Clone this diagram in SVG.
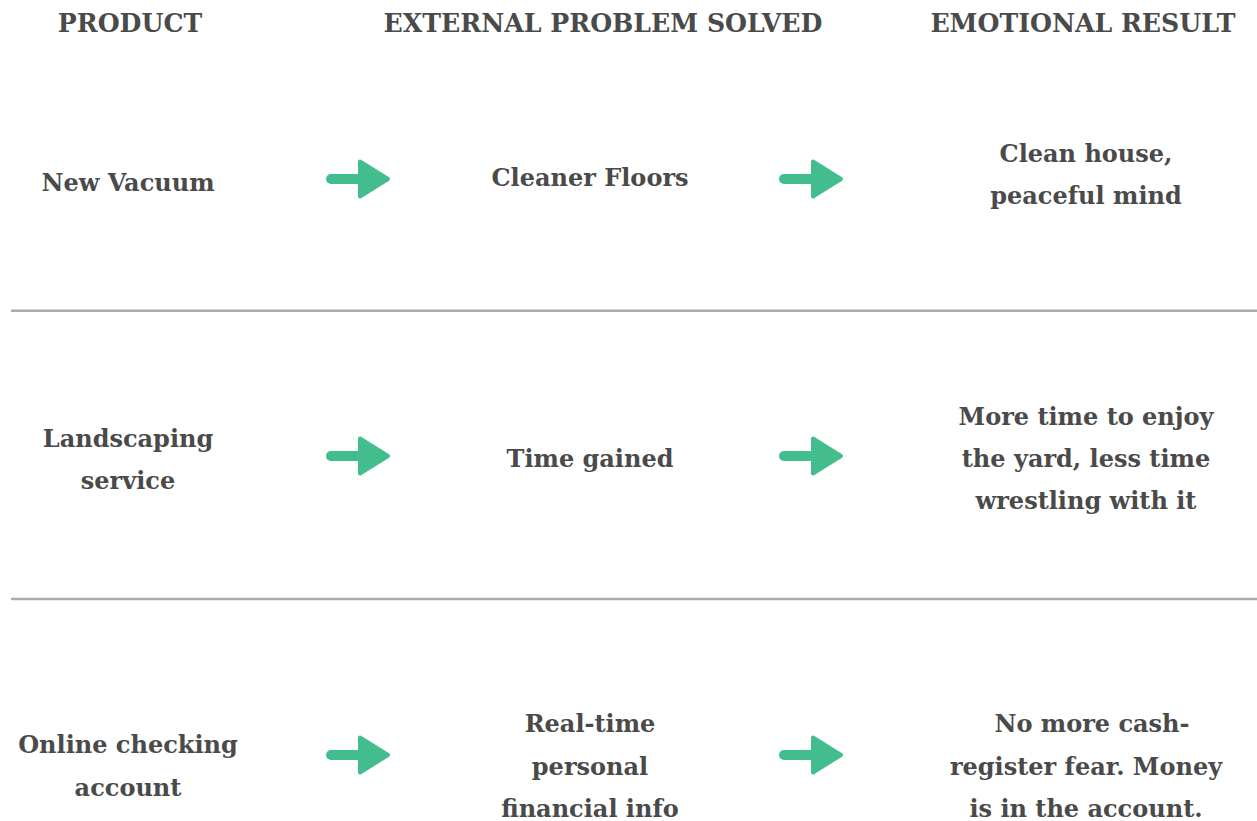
<svg xmlns="http://www.w3.org/2000/svg" width="1257" height="821" viewBox="0 0 1257 821">
  <defs>
    <style>
      text { font-family: "DejaVu Serif", "Liberation Serif", serif; font-weight: bold; fill: #4a4a4a; text-anchor: middle; }
      .head { font-size: 25.2px; }
      .body { font-size: 24px; }
      .rule { stroke: #ababab; stroke-width: 2.5; }
      .shaft { stroke: #44bd8e; stroke-width: 10; stroke-linecap: round; }
      .tip { fill: #44bd8e; stroke: #44bd8e; stroke-width: 4; stroke-linejoin: round; }
    </style>
    <!-- green arrow, drawn with its tip at the origin -->
    <g id="arrow">
      <line class="shaft" x1="-59" y1="0" x2="-20" y2="0"/>
      <polygon class="tip" points="-30,-17.5 -2,0 -30,17.5"/>
    </g>
  </defs>
  <rect width="1257" height="821" fill="#ffffff"/>

  <g id="headers">
    <text class="head" x="130" y="32">PRODUCT</text>
    <text class="head" x="603" y="32">EXTERNAL PROBLEM SOLVED</text>
    <text class="head" x="1083" y="32">EMOTIONAL RESULT</text>
  </g>

  <g id="dividers">
    <line class="rule" x1="11" y1="310.7" x2="1257" y2="310.7"/>
    <line class="rule" x1="11" y1="599" x2="1257" y2="599"/>
  </g>

  <g id="connectors">
    <use href="#arrow" x="390" y="179"/>
    <use href="#arrow" x="843" y="179"/>
    <use href="#arrow" x="390" y="456"/>
    <use href="#arrow" x="843" y="456"/>
    <use href="#arrow" x="390" y="755"/>
    <use href="#arrow" x="843" y="755"/>
  </g>

  <g id="vacuum-product"><text class="body" x="128" y="191">New Vacuum</text></g>
  <g id="vacuum-problem"><text class="body" x="590" y="186">Cleaner Floors</text></g>
  <g id="vacuum-result">
    <text class="body" x="1086" y="162">Clean house,</text>
    <text class="body" x="1086" y="204">peaceful mind</text>
  </g>

  <g id="landscaping-product">
    <text class="body" x="128" y="447">Landscaping</text>
    <text class="body" x="128" y="489">service</text>
  </g>
  <g id="landscaping-problem"><text class="body" x="590" y="467">Time gained</text></g>
  <g id="landscaping-result">
    <text class="body" x="1086" y="425">More time to enjoy</text>
    <text class="body" x="1086" y="467">the yard, less time</text>
    <text class="body" x="1086" y="509">wrestling with it</text>
  </g>

  <g id="checking-product">
    <text class="body" x="128" y="753">Online checking</text>
    <text class="body" x="128" y="796">account</text>
  </g>
  <g id="checking-problem">
    <text class="body" x="590" y="732">Real-time</text>
    <text class="body" x="590" y="775">personal</text>
    <text class="body" x="590" y="817">financial info</text>
  </g>
  <g id="checking-result">
    <text class="body" x="1092" y="732">No more cash-</text>
    <text class="body" x="1086" y="775">register fear. Money</text>
    <text class="body" x="1086" y="817">is in the account.</text>
  </g>
</svg>
